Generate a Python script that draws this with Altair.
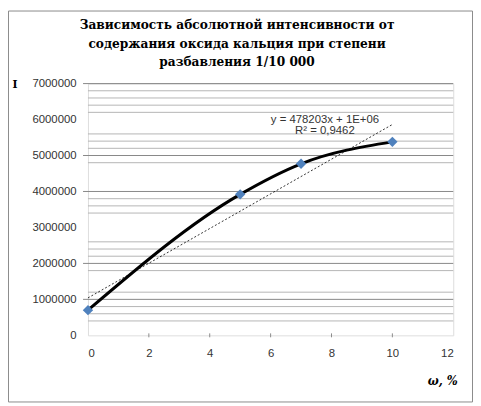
import altair as alt
import pandas as pd

# data
w_values = [0, 5, 7, 10]
i_values = [700000, 3920000, 4770000, 5380000]
x_ticks = [0, 2, 4, 6, 8, 10, 12]
x_tick_marks = [2, 4, 6, 8, 10]
y_ticks = [0, 1000000, 2000000, 3000000, 4000000, 5000000, 6000000, 7000000]
major_grid = [7000000, 5000000, 4000000, 2000000, 1000000]
minor_grid = [6800000, 6600000, 6400000, 6200000, 5600000, 5400000, 5200000,
              4800000, 3800000, 3600000, 3400000, 2600000, 2400000, 2200000,
              1800000, 1200000, 800000, 600000, 400000]
title_lines = ["Зависимость абсолютной интенсивности  от",
               "содержания оксида кальция при степени",
               "разбавления 1/10 000"]
trend_lines = ["y = 478203x + 1E+06", "R² = 0,9462"]

W, H = 370, 255
LABEL_FONT = "Liberation Sans"
SERIF = "'DejaVu Serif Condensed', 'DejaVu Serif', serif"

df = pd.DataFrame({"w": w_values, "I": i_values})
xs = alt.Scale(domain=[0, 12], nice=False, zero=False)
ys = alt.Scale(domain=[0, 7000000], nice=False)

x_axis = alt.Axis(values=x_ticks, grid=False, ticks=False, domain=False,
                  labelOverlap=False, labelFont=LABEL_FONT, labelFontSize=11.5,
                  labelColor="#333333", labelPadding=12, title="ω, %", titleFont=SERIF,
                  titleFontSize=13, titleFontWeight="bold", titleFontStyle="italic",
                  titleColor="black", titleAlign="right", titleBaseline="alphabetic",
                  titleX=W + 4, titleY=50, titleAngle=0)
y_axis = alt.Axis(values=y_ticks, format="d", grid=False, ticks=False, domain=False,
                  labelOverlap=False, labelFont=LABEL_FONT, labelFontSize=11.5,
                  labelColor="#333333", labelPadding=12, title="I", titleFont=SERIF,
                  titleFontSize=12, titleFontWeight="bold", titleColor="black",
                  titleAngle=0, titleAlign="left", titleBaseline="alphabetic",
                  titleX=-77, titleY=4)

one = pd.DataFrame({"k": [0]})

border = alt.Chart(one).mark_rect(fill=None, stroke="#8a8a8a", strokeWidth=1).encode(
    x=alt.value(-80.5), x2=alt.value(W + 19.5), y=alt.value(-73.5), y2=alt.value(H + 67.5)
)

minor = alt.Chart(pd.DataFrame({"g": minor_grid})).mark_rule(color="#b5b5b5", strokeWidth=1).encode(
    y=alt.Y("g:Q", scale=ys, axis=y_axis), x=alt.value(0), x2=alt.value(W)
)
major = alt.Chart(pd.DataFrame({"g": major_grid})).mark_rule(color="#878787", strokeWidth=1).encode(
    y=alt.Y("g:Q", scale=ys, axis=y_axis), x=alt.value(-5), x2=alt.value(W)
)
xtickmarks = alt.Chart(pd.DataFrame({"t": x_tick_marks})).mark_rule(color="#8a8a8a").encode(
    x=alt.X("t:Q", scale=xs, axis=x_axis), y=alt.value(H - 2), y2=alt.value(H + 2)
)

base = alt.Chart(df)

line = base.mark_line(color="black", strokeWidth=3, interpolate="monotone").encode(
    x=alt.X("w:Q", scale=xs, axis=x_axis),
    y=alt.Y("I:Q", scale=ys, axis=y_axis),
)

trend = base.transform_regression("w", "I", extent=[0, 10]).mark_line(
    color="black", strokeWidth=0.8, strokeDash=[2, 2]
).encode(x=alt.X("w:Q", scale=xs, axis=x_axis), y=alt.Y("I:Q", scale=ys, axis=y_axis))

points = base.mark_point(shape="diamond", filled=True, color="#4f81bd", size=110, opacity=1).encode(
    x=alt.X("w:Q", scale=xs, axis=x_axis), y=alt.Y("I:Q", scale=ys, axis=y_axis)
)

title = alt.Chart(one).mark_text(
    text=title_lines, font=SERIF, fontSize=13.7, fontWeight="bold",
    lineHeight=18.5, align="center", baseline="alphabetic", color="black"
).encode(x=alt.value(151), y=alt.value(-55))

trend_label = alt.Chart(one).mark_text(
    text=trend_lines, font=LABEL_FONT, fontSize=11.5, lineHeight=11.6,
    align="center", baseline="alphabetic", color="#333333"
).encode(x=alt.value(240), y=alt.value(39.5))

chart = alt.layer(
    border, minor, major, xtickmarks, trend, line, points, title, trend_label
).properties(
    width=W, height=H,
    autosize=alt.AutoSizeParams(type="none"),
    padding={"left": 81, "top": 74, "right": 20, "bottom": 68},
).configure_view(stroke=None).configure(background="white")

chart.save("out.html", embed_options={"renderer": "svg", "actions": False})
